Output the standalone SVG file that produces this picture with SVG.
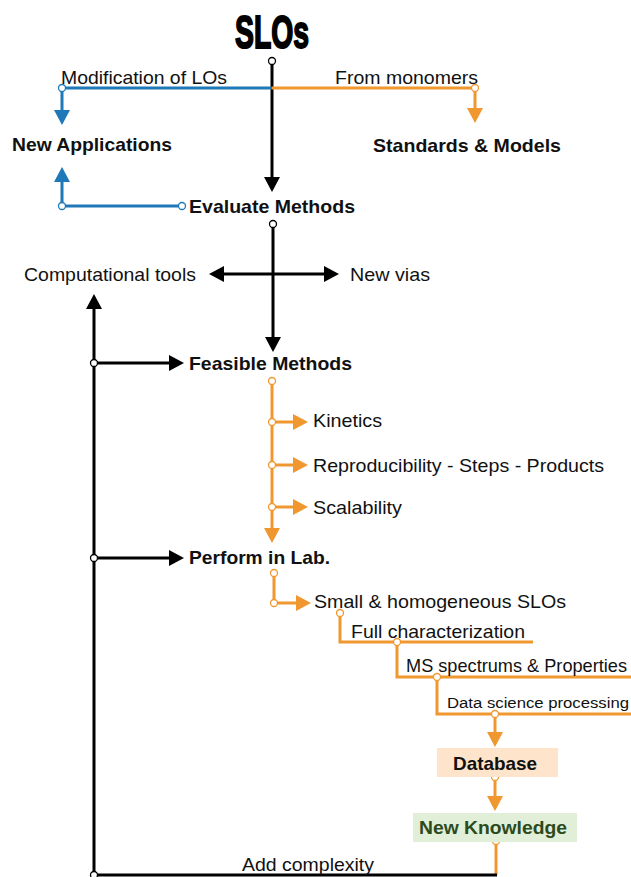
<svg xmlns="http://www.w3.org/2000/svg" width="631" height="877" viewBox="0 0 631 877">
<defs>
<style>
.t{font-family:"Liberation Sans",Arial,sans-serif;font-size:18.5px;fill:#111}
.b{font-weight:bold}
.s{font-size:15.5px}
.k{fill:none;stroke:#000;stroke-width:3}
.bl{fill:none;stroke:#1f78b8;stroke-width:3}
.or{fill:none;stroke:#f0972f;stroke-width:3}
.dk{fill:#fff;stroke:#000;stroke-width:1.3}
.db{fill:#fff;stroke:#1f78b8;stroke-width:1.3}
.do{fill:#fff;stroke:#f0972f;stroke-width:1.3}
</style>
<marker id="ak" markerUnits="userSpaceOnUse" markerWidth="18" markerHeight="18" refX="3" refY="9" orient="auto" overflow="visible"><path d="M0,1 L15,9 L0,17 z" fill="#000"/></marker>
<marker id="ab" markerUnits="userSpaceOnUse" markerWidth="18" markerHeight="18" refX="3" refY="9" orient="auto" overflow="visible"><path d="M0,1 L15,9 L0,17 z" fill="#1f78b8"/></marker>
<marker id="ao" markerUnits="userSpaceOnUse" markerWidth="18" markerHeight="18" refX="3" refY="9" orient="auto" overflow="visible"><path d="M0,1 L15,9 L0,17 z" fill="#f0972f"/></marker>
</defs>
<rect width="631" height="877" fill="#fff"/>

<g id="connectors">
<path class="k" d="M272,64 V180" marker-end="url(#ak)"/>
<path class="bl" d="M272,88 H62 V113" marker-end="url(#ab)"/>
<path class="or" d="M272,88 H475 V111" marker-end="url(#ao)"/>
<path class="bl" d="M179,206 H62 V179" marker-end="url(#ab)"/>
<path class="k" d="M273,227 V340" marker-end="url(#ak)"/>
<path class="k" d="M273,274 H221" marker-end="url(#ak)"/>
<path class="k" d="M273,274 H327" marker-end="url(#ak)"/>
<path class="k" d="M94,876 V306" marker-end="url(#ak)"/>
<path class="k" d="M94,363 H172" marker-end="url(#ak)"/>
<path class="k" d="M94,558 H172" marker-end="url(#ak)"/>
<path class="or" d="M272,384 V531" marker-end="url(#ao)"/>
<path class="or" d="M272,422 H296" marker-end="url(#ao)"/>
<path class="or" d="M272,465 H296" marker-end="url(#ao)"/>
<path class="or" d="M272,507 H296" marker-end="url(#ao)"/>
<path class="or" d="M274,576 V603 H299" marker-end="url(#ao)"/>
<path class="or" d="M340,616 V642 H533"/>
<path class="or" d="M397,642 V677 H631"/>
<path class="or" d="M437,677 V714 H631"/>
<path class="or" d="M495,714 V735" marker-end="url(#ao)"/>
<path class="or" d="M495,780 V799" marker-end="url(#ao)"/>
<path class="or" d="M496,844 V875"/>
<path class="k" d="M497,875 H94"/>
<circle class="dk" cx="272" cy="61" r="3.5"/>
<circle class="db" cx="62" cy="88" r="3.5"/>
<circle class="do" cx="475" cy="88" r="3.5"/>
<circle class="db" cx="182" cy="206" r="3.5"/>
<circle class="db" cx="62" cy="206" r="3.5"/>
<circle class="dk" cx="273" cy="224" r="3.5"/>
<circle class="dk" cx="94" cy="363" r="3.5"/>
<circle class="dk" cx="94" cy="558" r="3.5"/>
<circle class="do" cx="272" cy="381" r="3.5"/>
<circle class="do" cx="272" cy="422" r="3.5"/>
<circle class="do" cx="272" cy="465" r="3.5"/>
<circle class="do" cx="272" cy="507" r="3.5"/>
<circle class="do" cx="274" cy="573" r="3.5"/>
<circle class="do" cx="274" cy="603" r="3.5"/>
<circle class="do" cx="340" cy="613" r="3.5"/>
<circle class="do" cx="397" cy="642" r="3.5"/>
<circle class="do" cx="437" cy="677" r="3.5"/>
<circle class="do" cx="495" cy="714" r="3.5"/>
<circle class="do" cx="495" cy="777" r="3.5"/>
<circle class="do" cx="496" cy="841" r="3.5"/>
<circle class="dk" cx="94" cy="875" r="3.5"/>
</g>

<g id="slos"><text class="t b" x="235" y="48" textLength="74" lengthAdjust="spacingAndGlyphs" style="font-size:46px;stroke:#000;stroke-width:2;fill:#000">SLOs</text></g>
<g id="label-modification"><text class="t" x="61" y="84" textLength="166" lengthAdjust="spacingAndGlyphs">Modification of LOs</text></g>
<g id="label-monomers"><text class="t" x="335" y="84" textLength="143" lengthAdjust="spacingAndGlyphs">From monomers</text></g>
<g id="new-applications"><text class="t b" x="12" y="151" textLength="160" lengthAdjust="spacingAndGlyphs">New Applications</text></g>
<g id="standards-models"><text class="t b" x="373" y="152" textLength="188" lengthAdjust="spacingAndGlyphs">Standards &amp; Models</text></g>
<g id="evaluate-methods"><text class="t b" x="189" y="213" textLength="166" lengthAdjust="spacingAndGlyphs">Evaluate Methods</text></g>
<g id="computational-tools"><text class="t" x="24" y="281" textLength="172" lengthAdjust="spacingAndGlyphs">Computational tools</text></g>
<g id="new-vias"><text class="t" x="350" y="281" textLength="80" lengthAdjust="spacingAndGlyphs">New vias</text></g>
<g id="feasible-methods"><text class="t b" x="189" y="370" textLength="163" lengthAdjust="spacingAndGlyphs">Feasible Methods</text></g>
<g id="kinetics"><text class="t" x="313" y="427" textLength="69" lengthAdjust="spacingAndGlyphs">Kinetics</text></g>
<g id="reproducibility"><text class="t" x="313" y="472" textLength="291" lengthAdjust="spacingAndGlyphs">Reproducibility - Steps - Products</text></g>
<g id="scalability"><text class="t" x="313" y="514" textLength="89" lengthAdjust="spacingAndGlyphs">Scalability</text></g>
<g id="perform-lab"><text class="t b" x="189" y="564" textLength="141" lengthAdjust="spacingAndGlyphs">Perform in Lab.</text></g>
<g id="small-slos"><text class="t" x="314" y="608" textLength="252" lengthAdjust="spacingAndGlyphs">Small &amp; homogeneous SLOs</text></g>
<g id="full-characterization"><text class="t" x="351" y="638" textLength="174" lengthAdjust="spacingAndGlyphs">Full characterization</text></g>
<g id="ms-spectrums"><text class="t" x="406" y="672" textLength="221" lengthAdjust="spacingAndGlyphs">MS spectrums &amp; Properties</text></g>
<g id="data-science"><text class="t s" x="447" y="708" textLength="182" lengthAdjust="spacingAndGlyphs">Data science processing</text></g>
<g id="database"><rect x="437" y="748" width="121" height="29" fill="#fde4ca"/><text class="t b" x="453" y="770" textLength="84" lengthAdjust="spacingAndGlyphs">Database</text></g>
<g id="new-knowledge"><rect x="413" y="813" width="164" height="29" fill="#e1efd8"/><text class="t b" x="419" y="834" textLength="148" lengthAdjust="spacingAndGlyphs" style="fill:#2c4a1b">New Knowledge</text></g>
<g id="add-complexity"><text class="t" x="242" y="871" textLength="132" lengthAdjust="spacingAndGlyphs">Add complexity</text></g>
</svg>
